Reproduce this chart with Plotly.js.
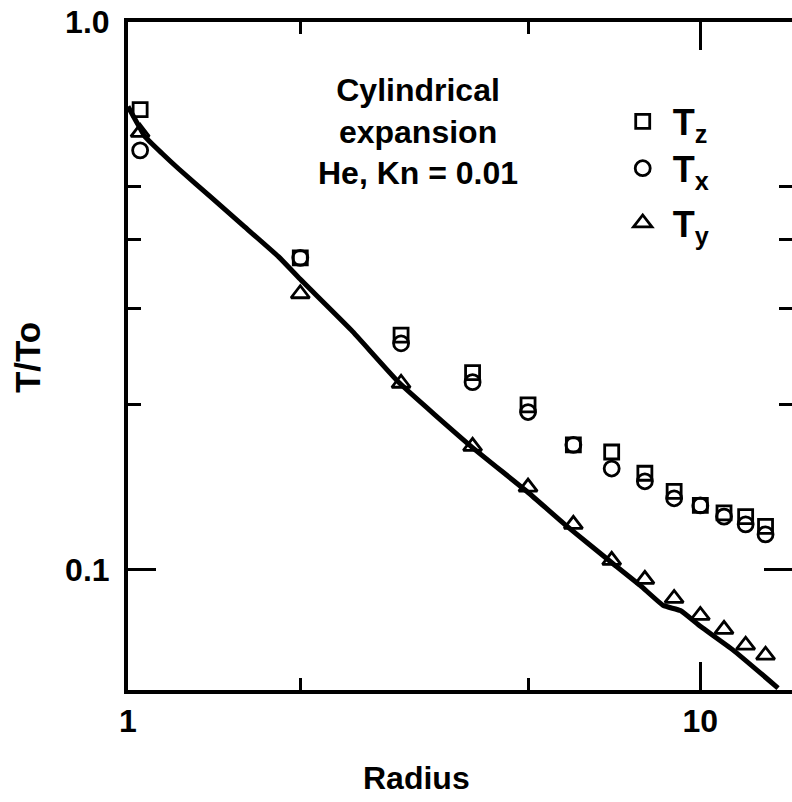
<!DOCTYPE html>
<html>
<head>
<meta charset="utf-8">
<script src="https://cdn.plot.ly/plotly-3.0.1.min.js"></script>
<style>
  html, body { margin: 0; padding: 0; background: #ffffff; }
  #chart { width: 792px; height: 802px; }
</style>
</head>
<body>
<div id="chart"></div>
<script>
// Measured temperature components versus radius
const radius = [1.05, 2, 3, 4, 5, 6, 7, 8, 9, 10, 11, 12, 13];
const tz = [0.692, 0.371, 0.268, 0.229, 0.200, 0.169, 0.164, 0.150, 0.139, 0.131, 0.127, 0.125, 0.120];
const tx = [0.583, 0.371, 0.259, 0.220, 0.194, 0.169, 0.153, 0.145, 0.135, 0.131, 0.125, 0.121, 0.116];
const ty = [0.629, 0.319, 0.219, 0.168, 0.1415, 0.121, 0.104, 0.096, 0.0886, 0.0825, 0.0778, 0.0728, 0.0698];

// Continuum solution curve
const curveR = [1.0, 1.035, 1.07, 1.146, 1.227, 1.401, 1.599, 1.832, 1.986, 2.456, 2.978, 3.975, 4.996, 5.866, 6.97, 7.86, 8.62, 9.23, 10.0, 11.41, 13.67];
const curveT = [0.701, 0.657, 0.618, 0.576, 0.539, 0.4772, 0.4227, 0.3729, 0.3416, 0.2738, 0.2194, 0.168, 0.1385, 0.1197, 0.1034, 0.0935, 0.086, 0.0842, 0.0788, 0.0713, 0.0608];

// Axis ticks
const xMajor = [1, 10];
const xMajorText = ['1', '10'];
const xMinor = [2, 5];
const yMajor = [0.1, 1];
const yMajorText = ['0.1', '1.0'];
const yMinor = [0.2, 0.3, 0.4, 0.5];

// Caption lines and axis labels
const captionLines = ['Cylindrical', 'expansion', 'He, Kn = 0.01'];
const xLabel = 'Radius';
const yLabel = 'T/To';

const FONT = 'Liberation Sans, Arial, Helvetica, sans-serif';
const markerLine = { color: '#000', width: 2.8 };

const traces = [
  {
    x: curveR, y: curveT, mode: 'lines', showlegend: false,
    line: { color: '#000', width: 5, shape: 'spline', smoothing: 0.4 }, hoverinfo: 'skip'
  },
  {
    x: radius, y: tz, mode: 'markers', name: 'T<sub>z</sub>', legend: 'legend',
    marker: { symbol: 'square-open', size: 14, color: '#000', line: markerLine }
  },
  {
    x: radius, y: tx, mode: 'markers', name: 'T<sub>x</sub>', legend: 'legend2',
    marker: { symbol: 'circle-open', size: 15, color: '#000', line: markerLine }
  },
  {
    x: radius, y: ty, mode: 'markers', name: 'T<sub>y</sub>', legend: 'legend3',
    marker: { symbol: 'triangle-up-open', size: 16, color: '#000', line: markerLine }
  }
];

const axisCommon = {
  type: 'log',
  showline: true, linecolor: '#000', linewidth: 4,
  mirror: 'ticks', ticks: 'inside', tickcolor: '#000', tickwidth: 3, ticklen: 28,
  showgrid: false, zeroline: false,
  tickfont: { family: FONT, size: 32, color: '#000', weight: 'bold' },
  tickmode: 'array'
};

const legendFont = { family: FONT, size: 36, color: '#000', weight: 'bold' };
function legendAt(yPaper) {
  return {
    x: 0.730, y: yPaper, xanchor: 'left', yanchor: 'middle',
    itemwidth: 50, bgcolor: 'rgba(0,0,0,0)', borderwidth: 0,
    font: legendFont
  };
}

const layout = {
  width: 792, height: 802,
  margin: { l: 128, r: 0, t: 22, b: 112, pad: 0 },
  paper_bgcolor: '#fff', plot_bgcolor: '#fff',
  font: { family: FONT, color: '#000' },
  showlegend: true,
  xaxis: Object.assign({}, axisCommon, {
    range: [0, Math.log10(14.46)],
    tickvals: xMajor, ticktext: xMajorText,
    minor: { tickmode: 'array', tickvals: xMinor, ticks: 'inside', ticklen: 12, tickwidth: 3, tickcolor: '#000', showgrid: false }
  }),
  yaxis: Object.assign({}, axisCommon, {
    range: [Math.log10(0.0603), 0],
    tickvals: yMajor, ticktext: yMajorText,
    ticklabelstandoff: 8,
    minor: { tickmode: 'array', tickvals: yMinor, ticks: 'inside', ticklen: 13, tickwidth: 3, tickcolor: '#000', showgrid: false }
  }),
  legend: legendAt(0.851),
  legend2: legendAt(0.781),
  legend3: legendAt(0.699),
  annotations: [
    {
      text: captionLines.join('<br>'),
      xref: 'paper', yref: 'paper', x: 0.437, y: 0.836,
      xanchor: 'center', yanchor: 'middle', showarrow: false, align: 'center',
      font: { family: FONT, size: 32, color: '#000', weight: 'bold' }
    },
    {
      text: xLabel,
      xref: 'paper', yref: 'paper', x: 0.435, y: -0.132,
      xanchor: 'center', yanchor: 'middle', showarrow: false,
      font: { family: FONT, size: 32, color: '#000', weight: 'bold' }
    },
    {
      text: yLabel, textangle: -90,
      xref: 'paper', yref: 'paper', x: -0.152, y: 0.497,
      xanchor: 'center', yanchor: 'middle', showarrow: false,
      font: { family: FONT, size: 35, color: '#000', weight: 'bold' }
    }
  ]
};

Plotly.newPlot('chart', traces, layout, { displayModeBar: false, staticPlot: true });
</script>
</body>
</html>
